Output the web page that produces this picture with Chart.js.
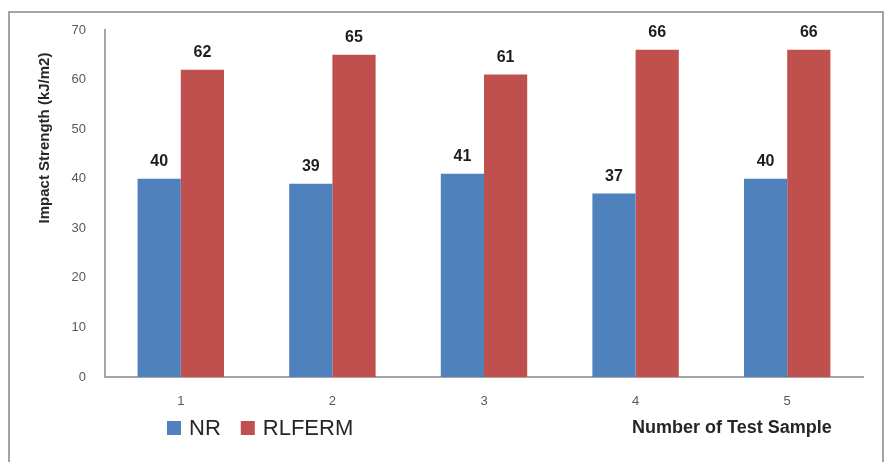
<!DOCTYPE html>
<html>
<head>
<meta charset="utf-8">
<script src="https://cdn.jsdelivr.net/npm/chart.js@4.4.1/dist/chart.umd.min.js"></script>
<style>
  html, body { margin: 0; padding: 0; background: #fff; }
  #wrap { position: relative; width: 887px; height: 462px; }
</style>
</head>
<body>
<div id="wrap"><canvas id="impactChart"></canvas></div>
<script>
// values
const samples = ['1', '2', '3', '4', '5'];
const nrValues = [40, 39, 41, 37, 40];
const rlfermValues = [62, 65, 61, 66, 66];
const seriesNames = ['NR', 'RLFERM'];
const seriesColors = ['#4F81BD', '#C0504D'];
const yMin = 0, yMax = 70, yStep = 10;
const yTitle = 'Impact Strength (kJ/m2)';
const xTitle = 'Number of Test Sample';

// outer frame around the whole chart
const framePlugin = {
  id: 'frame',
  beforeDraw(chart) {
    const ctx = chart.ctx;
    ctx.save();
    ctx.strokeStyle = '#a3a3a3';
    ctx.lineWidth = 2;
    ctx.strokeRect(9, 12, 874, 470);
    ctx.restore();
  }
};

// bold value labels above each bar
const valueLabels = {
  id: 'valueLabels',
  afterDatasetsDraw(chart) {
    const ctx = chart.ctx;
    ctx.save();
    ctx.font = 'bold 16px "Liberation Sans", Arial, sans-serif';
    ctx.fillStyle = '#1e1e1e';
    ctx.textAlign = 'center';
    ctx.textBaseline = 'bottom';
    chart.data.datasets.forEach((ds, i) => {
      chart.getDatasetMeta(i).data.forEach((bar, j) => {
        ctx.fillText(ds.data[j], bar.x, bar.y - 9);
      });
    });
    ctx.restore();
  }
};

// axis titles and legend placed like the original
const extras = {
  id: 'extras',
  afterDraw(chart) {
    const ctx = chart.ctx;
    ctx.save();

    // y title
    ctx.font = 'bold 15px "Liberation Sans", Arial, sans-serif';
    ctx.fillStyle = '#262626';
    ctx.translate(45, 138);
    ctx.rotate(-Math.PI / 2);
    ctx.textAlign = 'center';
    ctx.textBaseline = 'middle';
    ctx.fillText(yTitle, 0, 0);
    ctx.setTransform(1, 0, 0, 1, 0, 0);

    // x title, bottom right
    ctx.font = 'bold 18px "Liberation Sans", Arial, sans-serif';
    ctx.textAlign = 'left';
    ctx.fillText(xTitle, 632, 428);

    // legend
    let x = 167;
    const y = 428;
    ctx.font = '22px "Liberation Sans", Arial, sans-serif';
    chart.data.datasets.forEach(ds => {
      ctx.fillStyle = ds.backgroundColor;
      ctx.fillRect(x, y - 7, 14, 14);
      x += 22;
      ctx.fillStyle = '#262626';
      ctx.fillText(ds.label, x, y + 1);
      x += ctx.measureText(ds.label).width + 20;
    });
    ctx.restore();
  }
};

const tickFont = { family: '"Liberation Sans", Arial, sans-serif', size: 13 };

new Chart(document.getElementById('impactChart'), {
  type: 'bar',
  data: {
    labels: samples,
    datasets: [
      { label: seriesNames[0], data: nrValues, backgroundColor: seriesColors[0] },
      { label: seriesNames[1], data: rlfermValues, backgroundColor: seriesColors[1] }
    ]
  },
  options: {
    responsive: true,
    maintainAspectRatio: false,
    animation: false,
    layout: { padding: { left: 10, top: 30, right: 24, bottom: 45 } },
    datasets: { bar: { categoryPercentage: 0.57, barPercentage: 1 } },
    scales: {
      x: {
        grid: { display: false },
        border: { display: true, color: '#a6a6a6', width: 2 },
        ticks: { color: '#595959', font: tickFont, padding: 9 },
        afterFit: s => { s.height = 40; }
      },
      y: {
        min: yMin,
        max: yMax,
        grid: { display: false },
        border: { display: true, color: '#a6a6a6', width: 2 },
        ticks: { stepSize: yStep, color: '#595959', font: tickFont, padding: 11 },
        afterFit: s => { s.width = 95; }
      }
    },
    plugins: {
      legend: { display: false },
      tooltip: { enabled: false }
    }
  },
  plugins: [framePlugin, valueLabels, extras]
});
</script>
</body>
</html>
